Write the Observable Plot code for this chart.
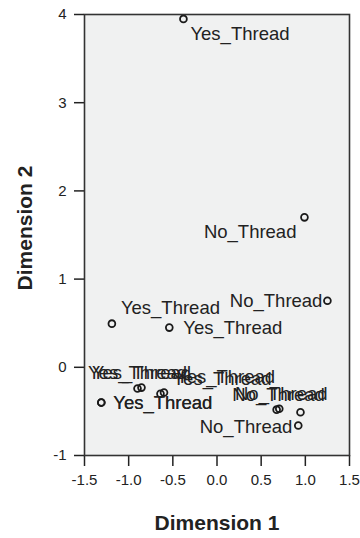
<!DOCTYPE html>
<html><head><meta charset="utf-8">
<script src="https://cdn.jsdelivr.net/npm/d3@7"></script>
<script src="https://cdn.jsdelivr.net/npm/@observablehq/plot@0.6"></script>
<style>
body{margin:0;background:#fff}
svg{font-family:"Liberation Sans",Arial,sans-serif}
</style>
</head><body><div id="chart"></div>
<script>
const labels = ["Yes_Thread","No_Thread","No_Thread","Yes_Thread","Yes_Thread","Yes_Thread","Yes_Thread","Yes_Thread","Yes_Thread","Yes_Thread","Yes_Thread","No_Thread","No_Thread","No_Thread","No_Thread"];
const dim1 = [-0.38, 0.99, 1.25, -1.19, -0.54, -0.90, -0.855, -0.64, -0.60, -1.31, -1.31, 0.675, 0.705, 0.945, 0.92];
const dim2 = [3.95, 1.70, 0.755, 0.495, 0.45, -0.24, -0.23, -0.30, -0.285, -0.40, -0.40, -0.48, -0.47, -0.51, -0.66];
const xTicks = [-1.5, -1.0, -0.5, 0.0, 0.5, 1.0, 1.5];
const yTicks = [-1, 0, 1, 2, 3, 4];
const xTitle = "Dimension 1";
const yTitle = "Dimension 2";

const data = labels.map((l, i) => ({label: l, d1: dim1[i], d2: dim2[i], i}));
const ink = "#222";
const lab = (idx, opts) => Plot.text(data.filter(d => idx.includes(d.i)), {
  x: "d1", y: "d2", text: "label", fontSize: 18.5, fill: ink, ...opts
});

const chart = Plot.plot({
  width: 360, height: 538,
  marginLeft: 84, marginRight: 11, marginTop: 14, marginBottom: 83,
  x: {domain: [-1.5, 1.5]},
  y: {domain: [-1, 4]},
  marks: [
    Plot.frame({fill: "#f0f1f1", stroke: "none"}),
    Plot.axisY({ticks: yTicks, tickFormat: d => String(d), tickSize: 10, tickPadding: 8, fontSize: 15, label: null, stroke: ink, strokeWidth: 1.5, color: ink}),
    Plot.axisX({ticks: xTicks, tickFormat: d => d.toFixed(1), tickSize: 11, tickPadding: 8, fontSize: 15, label: null, stroke: ink, strokeWidth: 1.5, color: ink}),
    Plot.dot(data, {x: "d1", y: "d2", r: 3.4, stroke: "#1a1a1a", strokeWidth: 1.8, fill: "none"}),
    lab([0], {textAnchor: "start", dx: 7, dy: 15}),
    lab([3], {textAnchor: "start", dx: 9, dy: -16}),
    lab([4], {textAnchor: "start", dx: 14, dy: 0}),
    lab([1], {textAnchor: "end", dx: -8, dy: 15}),
    lab([2], {textAnchor: "end", dx: -5, dy: 0}),
    lab([5, 6], {textAnchor: "middle", dx: 0, dy: -15}),
    lab([7, 8], {textAnchor: "start", dx: 12, dy: -15}),
    lab([9, 10], {textAnchor: "start", dx: 12, dy: 0}),
    lab([11, 12], {textAnchor: "middle", dx: 2, dy: -15}),
    lab([14], {textAnchor: "end", dx: -6, dy: 2}),
    Plot.frame({stroke: "#333", strokeWidth: 1.6}),
    Plot.text([xTitle], {frameAnchor: "bottom", lineAnchor: "middle", textAnchor: "middle", dy: 68, fontSize: 21, fontWeight: "bold", fill: ink}),
    Plot.text([yTitle], {frameAnchor: "left", textAnchor: "middle", lineAnchor: "middle", dx: -59, dy: -7, rotate: -90, fontSize: 21, fontWeight: "bold", fill: ink})
  ]
});
document.getElementById("chart").append(chart);
</script>
</body></html>
